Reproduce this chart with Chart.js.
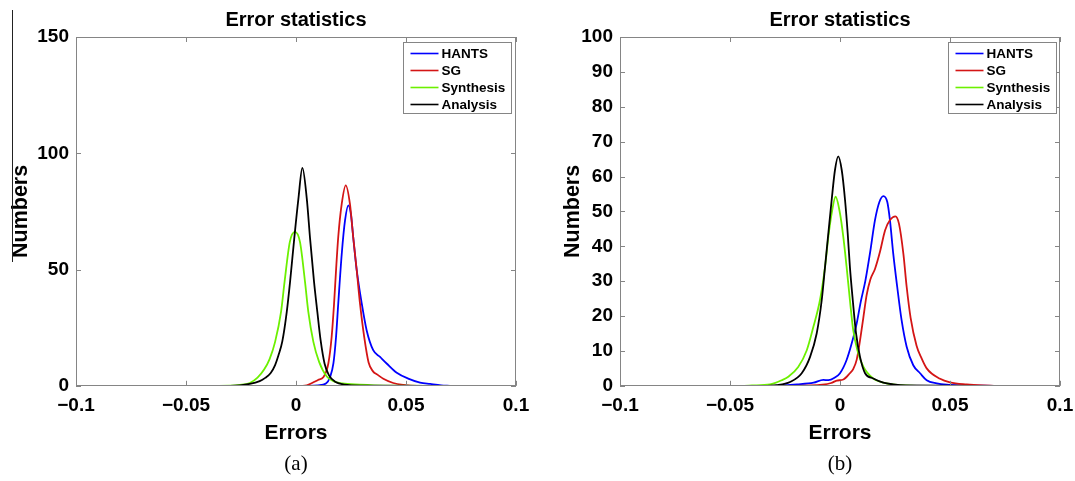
<!DOCTYPE html>
<html><head><meta charset="utf-8">
<script src="https://cdn.jsdelivr.net/npm/chart.js@4.4.1/dist/chart.umd.min.js"></script>
<style>
html,body{margin:0;padding:0;background:#fff;}
#wrap{position:relative;width:1075px;height:481px;overflow:hidden;background:#fff;}
#boxA{position:absolute;left:0;top:0;width:540px;height:481px;}
#boxB{position:absolute;left:540px;top:0;width:535px;height:481px;}
</style></head><body>
<div id="wrap"><div id="boxA"><canvas id="cA"></canvas></div><div id="boxB"><canvas id="cB"></canvas></div></div>
<script>
// ---- Data ----
const seriesLabels = ['HANTS', 'SG', 'Synthesis', 'Analysis'];
const xTickLabels = ['\u22120.1', '\u22120.05', '0', '0.05', '0.1'];
const yTickLabelsA = ['0', '50', '100', '150'];
const yTickLabelsB = ['0', '10', '20', '30', '40', '50', '60', '70', '80', '90', '100'];
const panelTitle = 'Error statistics';
const xTitle = 'Errors';
const yTitle = 'Numbers';

// Panel (a)
const errA_hants = [-0.06, 0.006, 0.010, 0.0136, 0.0155, 0.0170, 0.0182, 0.0192, 0.0208, 0.0223, 0.0238, 0.0250, 0.0260, 0.0276, 0.0299, 0.0321, 0.0351, 0.0382, 0.0412, 0.0458, 0.0510, 0.0564, 0.0610, 0.0660, 0.070];
const numA_hants = [0, 0, 0.2, 1.0, 3.8, 9.6, 21.0, 35.3, 56.8, 71.2, 77.6, 73.5, 64.0, 49.7, 35.3, 23.9, 15.3, 12.4, 9.6, 5.6, 3.1, 1.4, 0.8, 0.2, 0];
const errA_sg = [-0.06, 0.003, 0.0049, 0.0079, 0.0100, 0.0125, 0.0147, 0.0162, 0.0173, 0.0182, 0.0192, 0.0208, 0.0226, 0.0245, 0.0260, 0.0276, 0.0291, 0.0310, 0.0330, 0.0350, 0.0370, 0.0397, 0.0442, 0.0488, 0.055, 0.070];
const numA_sg = [0, 0, 0.2, 1.5, 2.5, 3.8, 9.6, 21.0, 35.3, 49.7, 64.0, 78.3, 86.2, 78.3, 64.0, 49.7, 35.3, 21.0, 10.0, 6.2, 4.8, 3.0, 1.2, 0.4, 0, 0];
const errA_syn = [-0.06, -0.035, -0.0255, -0.021, -0.0175, -0.0145, -0.0120, -0.0095, -0.0068, -0.0052, -0.0028, -0.0005, 0.0018, 0.0041, 0.0056, 0.0079, 0.0105, 0.0140, 0.0170, 0.0210, 0.0290, 0.0400, 0.070];
const numA_syn = [0, 0, 0.4, 1.2, 3.5, 7.0, 11.5, 18.9, 31.8, 44.7, 61.9, 66.2, 61.9, 44.7, 31.8, 18.9, 10.3, 4.0, 2.0, 1.0, 0.5, 0.1, 0];
const errA_ana = [-0.06, -0.030, -0.021, -0.0165, -0.0140, -0.0115, -0.0095, -0.0080, -0.0062, -0.0042, -0.0027, -0.0008, 0.0011, 0.0029, 0.0049, 0.0064, 0.0082, 0.0097, 0.0112, 0.0130, 0.0150, 0.0180, 0.0220, 0.030, 0.070];
const numA_ana = [0, 0, 0.8, 2.0, 3.4, 5.5, 8.9, 13.0, 19.2, 31.8, 44.7, 63.3, 80.5, 93.7, 80.5, 63.3, 44.7, 31.8, 19.5, 9.5, 4.5, 1.6, 0.5, 0.1, 0];

// Panel (b)
const errB_hants = [-0.06, -0.030, -0.0196, -0.0120, -0.0076, -0.0053, -0.0025, 0, 0.0030, 0.0053, 0.0076, 0.0094, 0.0115, 0.0136, 0.0159, 0.0179, 0.0197, 0.0215, 0.0227, 0.0242, 0.0260, 0.0280, 0.0303, 0.0333, 0.0364, 0.0394, 0.0440, 0.0485, 0.055, 0.070];
const numB_hants = [0, 0, 0.4, 0.9, 1.7, 1.6, 2.3, 3.6, 7.4, 12.1, 17.9, 24.0, 30.0, 37.9, 47.5, 52.7, 54.4, 52.7, 47.5, 37.9, 28.4, 18.8, 11.2, 5.9, 3.6, 1.6, 0.7, 0.3, 0.1, 0];
const errB_sg = [-0.06, -0.020, -0.008, -0.004, -0.0015, 0.0015, 0.0045, 0.0060, 0.0076, 0.0091, 0.0106, 0.0121, 0.0138, 0.0159, 0.0182, 0.0205, 0.0228, 0.0252, 0.0268, 0.0288, 0.0303, 0.0321, 0.0348, 0.0370, 0.0394, 0.0455, 0.0500, 0.0576, 0.065, 0.070];
const numB_sg = [0, 0, 0.3, 0.8, 1.5, 1.8, 3.6, 4.8, 7.5, 13.0, 19.5, 26.0, 30.5, 33.5, 38.5, 44.6, 47.6, 48.6, 46.5, 37.9, 28.4, 19.5, 11.5, 8.0, 5.0, 2.0, 1.0, 0.4, 0.1, 0];
const errB_syn = [-0.06, -0.045, -0.040, -0.0318, -0.0265, -0.0235, -0.0190, -0.0151, -0.0121, -0.0091, -0.0068, -0.0053, -0.0038, -0.0020, 0, 0.0015, 0.0030, 0.0045, 0.0060, 0.0079, 0.0106, 0.0151, 0.0196, 0.025, 0.035, 0.070];
const numB_syn = [0, 0, 0.1, 0.4, 1.6, 2.6, 5.4, 10.2, 16.9, 24.6, 34.1, 42.7, 49.4, 54.2, 49.4, 42.7, 34.1, 24.6, 16.0, 10.2, 5.5, 2.1, 0.9, 0.3, 0, 0];
const errB_ana = [-0.06, -0.035, -0.0288, -0.0227, -0.0174, -0.0136, -0.0106, -0.0083, -0.0068, -0.0053, -0.0038, -0.0023, -0.0008, 0.0008, 0.0023, 0.0035, 0.0045, 0.0058, 0.0073, 0.0091, 0.0114, 0.0151, 0.0197, 0.0242, 0.030, 0.070];
const numB_ana = [0, 0, 0.2, 1.1, 3.6, 8.3, 15.0, 24.6, 34.1, 43.7, 53.2, 61.8, 65.8, 61.8, 53.2, 43.7, 34.1, 24.6, 15.0, 8.3, 3.6, 2.1, 0.9, 0.4, 0.1, 0];

// ---- Styles ----
const seriesColors = ['#0000ff', '#d41515', '#6cf000', '#000000'];
const SANS = '"Liberation Sans", Arial, Helvetica, sans-serif';
const SERIF = '"Liberation Serif", "Times New Roman", serif';

function pairs(xs, ys) { return xs.map((x, i) => ({ x: x, y: ys[i] })); }

function buildDatasets(list) {
  return list.map((s, i) => ({
    label: seriesLabels[i],
    data: pairs(s[0], s[1]),
    borderColor: seriesColors[i],
    backgroundColor: seriesColors[i],
    borderWidth: 1.8,
    pointRadius: 0,
    fill: false,
    cubicInterpolationMode: 'monotone',
    order: 4 - i
  }));
}

const framePlugin = {
  id: 'frame',
  afterDatasetsDraw(chart, args, opts) {
    const ctx = chart.ctx, a = chart.chartArea;
    const xs = chart.scales.x, ys = chart.scales.y;
    ctx.save();
    ctx.strokeStyle = '#858585';
    ctx.lineWidth = 1;
    ctx.strokeRect(Math.round(a.left) + 0.5, Math.round(a.top) + 0.5, Math.round(a.right - a.left) - 1, Math.round(a.bottom - a.top) - 1);
    const L = 5;
    ctx.beginPath();
    xs.ticks.forEach(t => {
      const px = Math.round(xs.getPixelForValue(t.value)) + 0.5;
      ctx.moveTo(px, a.bottom); ctx.lineTo(px, a.bottom - L);
      ctx.moveTo(px, a.top); ctx.lineTo(px, a.top + L);
    });
    ys.ticks.forEach(t => {
      const py = Math.round(ys.getPixelForValue(t.value)) + 0.5;
      ctx.moveTo(a.left, py); ctx.lineTo(a.left + L, py);
      ctx.moveTo(a.right, py); ctx.lineTo(a.right - L, py);
    });
    ctx.stroke();

    // legend box (MATLAB style, inside top-right)
    const w = 108, h = 71;
    const bx = Math.round(a.right - opts.legendRight - w) + 0.5;
    const by = Math.round(a.top + 5) + 0.5;
    ctx.fillStyle = '#fff';
    ctx.fillRect(bx, by, w, h);
    ctx.strokeStyle = '#858585';
    ctx.strokeRect(bx, by, w, h);
    ctx.font = 'bold 13.5px ' + SANS;
    ctx.textBaseline = 'middle';
    ctx.textAlign = 'left';
    chart.data.datasets.forEach((ds, i) => {
      const yy = by + 11 + i * 17;
      ctx.strokeStyle = ds.borderColor;
      ctx.lineWidth = 1.6;
      ctx.beginPath();
      ctx.moveTo(bx + 7, yy); ctx.lineTo(bx + 35, yy);
      ctx.stroke();
      ctx.fillStyle = '#000';
      ctx.fillText(ds.label, bx + 38, yy + 0.5);
    });

    if (opts.artifact) {
      ctx.strokeStyle = '#222';
      ctx.lineWidth = 1;
      ctx.beginPath();
      ctx.moveTo(12.5, 10); ctx.lineTo(12.5, 262);
      ctx.stroke();
    }
    ctx.restore();
  }
};

function makeChart(id, series, yMax, yStep, yLabels, panelLabel, yAxisWidth, rightPad, yTitlePad, legendRight, artifact) {
  return new Chart(document.getElementById(id), {
    type: 'line',
    data: { datasets: buildDatasets(series) },
    plugins: [framePlugin],
    options: {
      responsive: true,
      maintainAspectRatio: false,
      animation: false,
      events: [],
      layout: { padding: { left: 0, right: rightPad, top: 0, bottom: 0 } },
      plugins: {
        legend: { display: false },
        tooltip: { enabled: false },
        frame: { legendRight: legendRight, artifact: artifact },
        title: {
          display: true, text: panelTitle, fullSize: false, color: '#000',
          font: { family: SANS, size: 20, weight: 'bold', lineHeight: 1.2 },
          padding: { top: 8, bottom: 5 }
        },
        subtitle: {
          display: true, position: 'bottom', text: panelLabel, fullSize: false, color: '#000',
          font: { family: SERIF, size: 21, weight: 'normal', lineHeight: 1.2 },
          padding: { top: 0, bottom: 4 }
        }
      },
      scales: {
        x: {
          type: 'linear', min: -0.1, max: 0.1,
          ticks: {
            stepSize: 0.05, autoSkip: false, maxRotation: 0, color: '#000', padding: 9,
            font: { family: SANS, size: 19, weight: 'bold' },
            callback: (v, i) => xTickLabels[i]
          },
          grid: { display: false, drawTicks: false },
          border: { display: false },
          title: {
            display: true, text: xTitle, color: '#000',
            font: { family: SANS, size: 21, weight: 'bold', lineHeight: 1.2 },
            padding: { top: 0, bottom: 6 }
          },
          afterFit: s => { s.height = 66; s.paddingLeft = 0; s.paddingRight = 0; }
        },
        y: {
          type: 'linear', min: 0, max: yMax,
          ticks: {
            stepSize: yStep, autoSkip: false, color: '#000', padding: 7,
            font: { family: SANS, size: 19, weight: 'bold' },
            callback: (v, i) => yLabels[i]
          },
          grid: { display: false, drawTicks: false },
          border: { display: false },
          title: {
            display: true, text: yTitle, color: '#000',
            font: { family: SANS, size: 21.5, weight: 'bold', lineHeight: 1.2 },
            padding: { top: yTitlePad, bottom: 0 }
          },
          afterFit: s => { s.width = yAxisWidth; s.paddingTop = 0; s.paddingBottom = 0; }
        }
      }
    }
  });
}

makeChart('cA',
  [[errA_hants, numA_hants], [errA_sg, numA_sg], [errA_syn, numA_syn], [errA_ana, numA_ana]],
  150, 50, yTickLabelsA, '(a)', 76, 24, 8.2, 5, true);
makeChart('cB',
  [[errB_hants, numB_hants], [errB_sg, numB_sg], [errB_syn, numB_syn], [errB_ana, numB_ana]],
  100, 10, yTickLabelsB, '(b)', 80, 15, 20.2, 4, false);
</script>
</body></html>
